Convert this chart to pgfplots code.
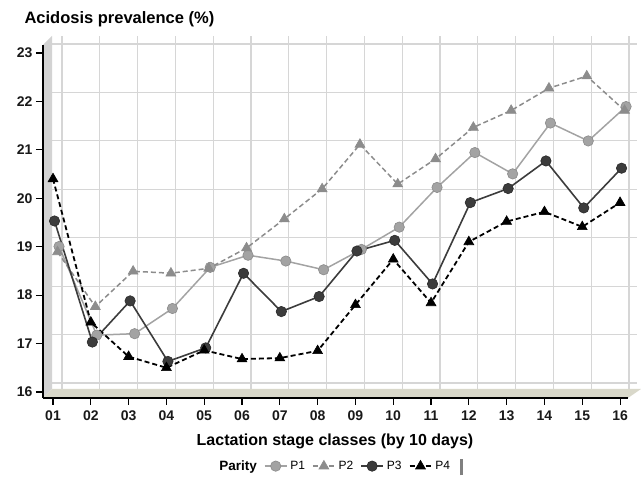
\documentclass[border=0pt]{standalone}
\usepackage{pgfplots}
\usepackage{pgfplotstable}
\pgfplotsset{compat=1.18}
\usepackage{fontspec}
\setmainfont{Liberation Sans}

\definecolor{gridgrey}{HTML}{D6D6D6}
\definecolor{wallgrey}{HTML}{D3D3D3}
\definecolor{floorgrey}{HTML}{D9D8CA}
\definecolor{pone}{HTML}{A3A3A3}
\definecolor{ptwo}{HTML}{8C8C8C}
\definecolor{pthree}{HTML}{3C3C3C}

% lactation stage class, parity P1..P4 (acidosis prevalence, %)
\pgfplotstableread{
x  p1    p2    p3    p4
1  18.88 18.80 19.50 20.40
2  17.05 17.67 17.00 17.44
3  17.08 18.40 17.85 16.73
4  17.60 18.36 16.60 16.50
5  18.45 18.46 16.88 16.86
6  18.70 18.88 18.42 16.68
7  18.58 19.48 17.63 16.70
8  18.40 20.10 17.94 16.85
9  18.82 21.02 18.88 17.80
10 19.28 20.20 19.10 18.74
11 20.10 20.72 18.20 17.84
12 20.82 21.37 19.88 19.10
13 20.38 21.72 20.17 19.52
14 21.43 22.18 20.74 19.72
15 21.06 22.43 19.77 19.41
16 21.77 21.72 20.59 19.91
}\lactdata

\pgfplotsset{
  p1style/.style={pone, line width=1.5pt, mark=*, mark size=5.2pt,
    mark options={solid, fill=pone, draw=pone!85!black, line width=0.6pt}},
  p2style/.style={ptwo, line width=1.5pt, dash pattern=on 5pt off 3pt, mark=triangle*, mark size=5.7pt,
    mark options={solid, fill=ptwo, draw=ptwo, line width=0.6pt}},
  p3style/.style={pthree, line width=1.6pt, mark=*, mark size=5.2pt,
    mark options={solid, fill=pthree, draw=pthree!70!black, line width=0.6pt}},
  p4style/.style={black, line width=1.8pt, dash pattern=on 5pt off 3pt, mark=triangle*, mark size=5.7pt,
    mark options={solid, fill=black, line width=0.6pt}},
  lims/.style={scale only axis, width=585pt, height=353pt,
    xmin=0.735, xmax=16.21, ymin=15.876, ymax=23.165,
    xtick={1,...,16}, ytick={16,...,23}},
}

\begin{document}
\begin{tikzpicture}[x=1pt,y=1pt]
\useasboundingbox (0,0) rectangle (641,481);

% back wall with grid
\begin{axis}[lims, at={(52pt,92pt)}, anchor=south west,
  grid=major, major grid style={gridgrey, line width=1.2pt},
  axis line style={draw=none}, tick style={draw=none},
  xticklabels={}, yticklabels={}]
\end{axis}

% side wall and floor
\fill[wallgrey] (43,83) -- (43,436) -- (52,445) -- (52,92) -- cycle;
\fill[floorgrey] (43,83) -- (52,92) -- (641,92) -- (628,83) -- cycle;

\node[anchor=base west, font=\fontsize{16.5}{18}\selectfont\bfseries] at (21,457) {Acidosis prevalence (\%)};
\node[font=\fontsize{16}{18}\selectfont\bfseries] at (335,40) {Lactation stage classes (by 10 days)};

% front axis with data
\begin{axis}[lims, at={(43pt,83pt)}, anchor=south west,
  clip=false,
  axis x line*=bottom, axis y line*=left,
  axis line style={black, line width=1.6pt, -},
  tick align=outside, major tick length=7pt,
  tick style={black, line width=1.1pt},
  xticklabels={01,02,03,04,05,06,07,08,09,10,11,12,13,14,15,16},
  yticklabels={16,17,18,19,20,21,22,23},
  ticklabel style={font=\fontsize{14}{16}\selectfont\bfseries, text=black!90},
  xticklabel style={yshift=-2.5pt},
  legend columns=-1,
  legend style={draw=none, fill=none, at={(0.509,-0.193)}, anchor=center,
    font=\fontsize{12}{14}\selectfont,
    /tikz/every even column/.append style={column sep=5pt},
    /tikz/every odd column/.append style={column sep=1pt}},
  legend image code/.code={%
    \draw[#1, mark repeat=2, mark phase=2] plot coordinates {(0pt,0pt) (11pt,0pt) (22pt,0pt)};},
]
\addplot[p1style, forget plot, xshift=6pt, yshift=6pt] table[x=x, y=p1] {\lactdata};
\addplot[p2style, forget plot, xshift=4.5pt, yshift=4.5pt] table[x=x, y=p2] {\lactdata};
\addplot[p3style, forget plot, xshift=1.5pt, yshift=1.5pt] table[x=x, y=p3] {\lactdata};
\addplot[p4style, forget plot] table[x=x, y=p4] {\lactdata};

\addlegendimage{empty legend}
\addlegendentry{\fontsize{13.5}{15}\selectfont\bfseries Parity}
\addlegendimage{p1style}
\addlegendentry{P1}
\addlegendimage{p2style}
\addlegendentry{P2}
\addlegendimage{p3style}
\addlegendentry{P3}
\addlegendimage{p4style}
\addlegendentry{P4}
\addlegendimage{empty legend}
\addlegendentry{\textcolor{black!50}{\rule[-4pt]{3pt}{16pt}}}
\end{axis}
\end{tikzpicture}
\end{document}
